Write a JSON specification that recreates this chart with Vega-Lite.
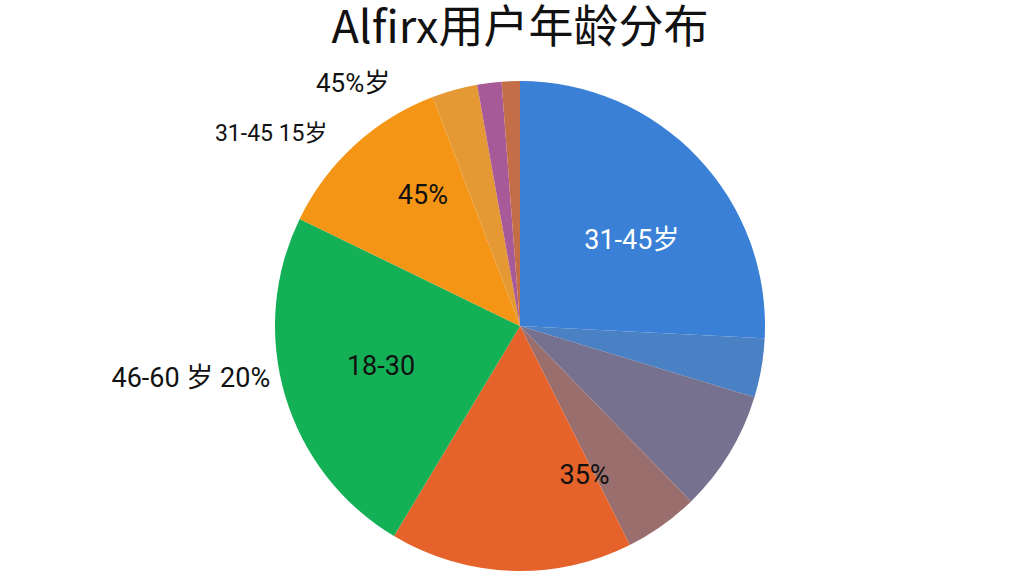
{
  "$schema": "https://vega.github.io/schema/vega-lite/v6.json",
  "width": 1008,
  "height": 500,
  "autosize": "none",
  "padding": {"left": 16, "top": 76, "right": 0, "bottom": 0},
  "background": "white",
  "title": {
    "text": "Alfirx用户年龄分布",
    "font": "Noto Sans CJK SC",
    "fontSize": 45,
    "fontWeight": "normal",
    "color": "#111111",
    "anchor": "middle",
    "baseline": "alphabetic",
    "offset": -38
  },
  "data": {
    "values": [
      {"k": "a", "i": 1, "v": 25.8},
      {"k": "b", "i": 2, "v": 3.9},
      {"k": "c", "i": 3, "v": 8.0},
      {"k": "d", "i": 4, "v": 4.9},
      {"k": "e", "i": 5, "v": 16.0},
      {"k": "f", "i": 6, "v": 23.6},
      {"k": "g", "i": 7, "v": 12.0},
      {"k": "h", "i": 8, "v": 3.0},
      {"k": "i", "i": 9, "v": 1.6},
      {"k": "j", "i": 10, "v": 1.2}
    ]
  },
  "encoding": {
    "theta": {"field": "v", "type": "quantitative", "stack": true},
    "order": {"field": "i", "type": "quantitative"}
  },
  "layer": [
    {
      "mark": {"type": "arc", "outerRadius": 245},
      "encoding": {
        "color": {
          "field": "k",
          "type": "nominal",
          "legend": null,
          "scale": {
            "domain": ["a", "b", "c", "d", "e", "f", "g", "h", "i", "j"],
            "range": ["#3a80d6", "#4a80c4", "#75718f", "#9a6e6c", "#e5622a", "#14b056", "#f59515", "#e49935", "#a75a97", "#c46e48"]
          }
        }
      }
    },
    {
      "mark": {"type": "text", "radius": 135, "dx": 14, "dy": 8, "font": "Roboto, Noto Sans CJK SC", "fontSize": 27, "color": "white"},
      "encoding": {"text": {"condition": {"test": "datum.k === 'a'", "value": "31-45岁"}, "value": ""}}
    },
    {
      "mark": {"type": "text", "radius": 163, "dx": -30, "dy": 17, "font": "Roboto, Noto Sans CJK SC", "fontSize": 27, "color": "#111111"},
      "encoding": {"text": {"condition": {"test": "datum.k === 'd'", "value": "35%"}, "value": ""}}
    },
    {
      "mark": {"type": "text", "radius": 145, "font": "Roboto, Noto Sans CJK SC", "fontSize": 27, "color": "#111111"},
      "encoding": {"text": {"condition": {"test": "datum.k === 'f'", "value": "18-30"}, "value": ""}}
    },
    {
      "mark": {"type": "text", "radius": 163, "dx": 13, "dy": -10, "font": "Roboto, Noto Sans CJK SC", "fontSize": 27, "color": "#111111"},
      "encoding": {"text": {"condition": {"test": "datum.k === 'g'", "value": "45%"}, "value": ""}}
    },
    {
      "mark": {"type": "text", "radius": 245, "align": "right", "dx": -99, "dy": 1, "font": "Roboto, Noto Sans CJK SC", "fontSize": 26, "color": "#111111"},
      "encoding": {"text": {"condition": {"test": "datum.k === 'i'", "value": "45%岁"}, "value": ""}}
    },
    {
      "mark": {"type": "text", "radius": 245, "align": "right", "dx": -27, "dy": -11, "font": "Roboto, Noto Sans CJK SC", "fontSize": 23, "color": "#111111"},
      "encoding": {"text": {"condition": {"test": "datum.k === 'g'", "value": "31-45 15岁"}, "value": ""}}
    },
    {
      "mark": {"type": "text", "radius": 245, "align": "right", "dx": -15, "dy": -17, "font": "Roboto, Noto Sans CJK SC", "fontSize": 27, "color": "#111111"},
      "encoding": {"text": {"condition": {"test": "datum.k === 'f'", "value": "46-60 岁 20%"}, "value": ""}}
    }
  ]
}
